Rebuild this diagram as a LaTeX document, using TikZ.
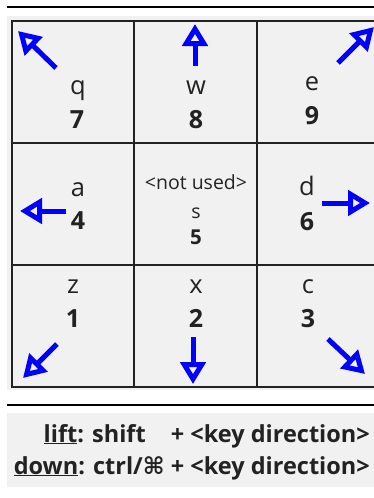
\documentclass[tikz,border=0pt]{standalone}
\usepackage{fontspec}
\setmainfont{Open Sans}
\newfontfamily\symfont{DejaVu Sans}
\usetikzlibrary{arrows.meta}
\definecolor{panel}{HTML}{F1F1F1}
\definecolor{gridline}{HTML}{222222}
\definecolor{ink}{HTML}{222222}
\tikzset{
  keyletter/.style={anchor=base, inner sep=0pt, text=ink, font=\fontsize{25.5}{28}\selectfont},
  keydigit/.style={anchor=base, inner sep=0pt, text=ink, font=\fontsize{25}{28}\selectfont\bfseries},
  smalltext/.style={anchor=base, inner sep=0pt, text=ink, font=\fontsize{19.5}{22}\selectfont},
  smalldigit/.style={anchor=base, inner sep=0pt, text=ink, font=\fontsize{20.5}{23}\selectfont\bfseries},
  legend/.style={anchor=base east, inner sep=0pt, text=ink, font=\fontsize{23.5}{26}\selectfont\bfseries},
  dirarrow/.style={draw=blue, line width=5pt, -{Triangle[open, length=22pt, width=25pt]}},
  gridstroke/.style={draw=gridline, line width=2.5pt},
}
\begin{document}
\begin{tikzpicture}[x=1pt, y=-1pt]
\useasboundingbox (0,0) rectangle (374,498);
\clip (0,0) rectangle (374,498);

% top rule and key panel
\draw[line width=2pt, black] (7,7) -- (380,7);
\fill[panel] (7,16) rectangle (390,390);

% 3x3 key grid
\draw[gridstroke] (12,21) rectangle (381,387);
\draw[gridstroke] (134,21) -- (134,387);
\draw[gridstroke] (257,21) -- (257,387);
\draw[gridstroke] (12,143) -- (381,143);
\draw[gridstroke] (12,265) -- (381,265);

% key labels
\node[keyletter] (kq) at (78,94) {q};
\node[keydigit]  (n7) at (77,128) {7};
\node[keyletter] (kw) at (196,94) {w};
\node[keydigit]  (n8) at (196,128) {8};
\node[keyletter] (ke) at (312,90) {e};
\node[keydigit]  (n9) at (312,124) {9};

\node[keyletter] (ka) at (78,196) {a};
\node[keydigit]  (n4) at (78,229) {4};
\node[smalltext] (nu) at (196,189) {<not used>};
\node[smalltext] (ks) at (196,218) {s};
\node[smalldigit] (n5) at (196,244) {5};
\node[keyletter] (kd) at (307,195) {d};
\node[keydigit]  (n6) at (307,230) {6};

\node[keyletter] (kz) at (73,293) {z};
\node[keydigit]  (n1) at (73,327) {1};
\node[keyletter] (kx) at (196,293) {x};
\node[keydigit]  (n2) at (196,327) {2};
\node[keyletter] (kc) at (308,293) {c};
\node[keydigit]  (n3) at (308,327) {3};

% direction arrows
\coordinate (qa) at (56,68);  \coordinate (qb) at (18,31);
\coordinate (wa) at (195,66); \coordinate (wb) at (195,24);
\coordinate (ea) at (338,63); \coordinate (eb) at (374,27);
\coordinate (aa) at (66,211); \coordinate (ab) at (20,211);
\coordinate (da) at (322,203); \coordinate (db) at (370,203);
\coordinate (za) at (57,344); \coordinate (zb) at (23,378);
\coordinate (xa) at (193,337); \coordinate (xb) at (193,384);
\coordinate (ca) at (328,339); \coordinate (cb) at (365,374);
\foreach \k in {q,w,e,a,d,z,x,c}
  \draw[dirarrow] (\k a) -- (\k b);

% legend
\draw[line width=2pt, black] (7,405) -- (380,405);
\fill[panel] (7,413) rectangle (390,487);
\node[legend] (l1a) at (146,442) {\underline{lift}: shift};
\node[legend] (l1b) at (370,442) {+ <key direction>};
\node[legend] (l2) at (370,474) {\underline{down}: ctrl/{\symfont ⌘} + <key direction>};
\end{tikzpicture}
\end{document}
